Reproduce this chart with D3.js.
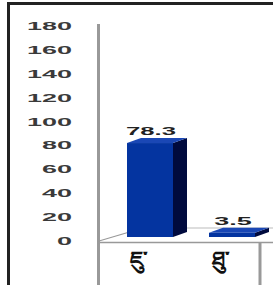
<!DOCTYPE html>
<html>
<head>
<meta charset="utf-8">
<script src="https://cdn.jsdelivr.net/npm/d3@7"></script>
<style>
  body { margin: 0; background: #fff; }
  svg { display: block; }
</style>
</head>
<body>
<div id="chart"></div>
<script>
// datos
const categories = ['ཇུ་', 'ཐུ་'];
const values = [78.3, 3.5];
const tickValues = [0, 20, 40, 60, 80, 100, 120, 140, 160, 180];

const width = 273;
const height = 285;

const svg = d3.select('#chart')
  .append('svg')
  .attr('width', width)
  .attr('height', height);

// marco
svg.append('path')
  .attr('d', 'M8.5,285 V3.5 H273')
  .attr('fill', 'none')
  .attr('stroke', '#222')
  .attr('stroke-width', 3);

// escalas
const x = d3.scaleBand().domain(categories).range([98, 262]);
const yTicks = d3.scaleLinear().domain([0, 180]).range([241, 26]);
const yBar = d3.scaleLinear().domain([0, 180]).range([237, 237 - 216]);

// eje Y (solo etiquetas)
const axis = svg.append('g')
  .attr('transform', 'translate(72,0)')
  .call(d3.axisLeft(yTicks).tickValues(tickValues).tickSize(0).tickPadding(0));
axis.select('.domain').remove();
axis.selectAll('text')
  .attr('font-family', 'Liberation Sans, Arial, sans-serif')
  .attr('font-size', 11)
  .attr('font-weight', 'bold')
  .attr('fill', '#3a3a3a')
  .attr('textLength', (d) => String(d).length * 15)
  .attr('lengthAdjust', 'spacingAndGlyphs');

// suelo y líneas
const depthX = 44, depthY = -13;
svg.append('line')
  .attr('x1', 98.5).attr('x2', 98.5).attr('y1', 24).attr('y2', height)
  .attr('stroke', '#999').attr('stroke-width', 3);
svg.append('line')
  .attr('x1', 99).attr('y1', 241).attr('x2', 99 + depthX).attr('y2', 241 + depthY)
  .attr('stroke', '#999').attr('stroke-width', 1.2);
svg.append('line')
  .attr('x1', 99 + depthX).attr('y1', 228).attr('x2', width).attr('y2', 228)
  .attr('stroke', '#bbb').attr('stroke-width', 1.2);
svg.append('line')
  .attr('x1', 98).attr('y1', 242.5).attr('x2', width).attr('y2', 242.5)
  .attr('stroke', '#999').attr('stroke-width', 1.5);
svg.append('line')
  .attr('x1', x.range()[1] - 2).attr('x2', x.range()[1] - 2).attr('y1', 243).attr('y2', height)
  .attr('stroke', '#999').attr('stroke-width', 3);

// barras 3D
const barW = 46, dx = 14, dy = -5;
const bars = svg.selectAll('.bar')
  .data(categories.map((c, i) => ({ c, v: values[i] })))
  .enter()
  .append('g')
  .attr('class', 'bar');

bars.append('polygon')
  .attr('fill', '#000a3d')
  .attr('points', (d) => {
    const x0 = x(d.c) + 29 + barW, yt = yBar(d.v), yb = yBar(0);
    return [[x0, yt], [x0 + dx, yt + dy], [x0 + dx, yb + dy], [x0, yb]].join(' ');
  });

bars.append('polygon')
  .attr('fill', '#1a47b5')
  .attr('points', (d) => {
    const x0 = x(d.c) + 29, yt = yBar(d.v);
    return [[x0, yt], [x0 + dx, yt + dy], [x0 + barW + dx, yt + dy], [x0 + barW, yt]].join(' ');
  });

bars.append('rect')
  .attr('x', (d) => x(d.c) + 29)
  .attr('y', (d) => yBar(d.v))
  .attr('width', barW)
  .attr('height', (d) => yBar(0) - yBar(d.v))
  .attr('fill', '#0434a0');

// etiquetas de valor
bars.append('text')
  .attr('x', (d) => x(d.c) + 29 + barW / 2 + 1)
  .attr('y', (d) => yBar(d.v) - 8)
  .attr('text-anchor', 'middle')
  .attr('font-family', 'Liberation Sans, Arial, sans-serif')
  .attr('font-size', 10)
  .attr('font-weight', 'bold')
  .attr('fill', '#222')
  .attr('textLength', (d) => String(d.v).length * 12.5)
  .attr('lengthAdjust', 'spacingAndGlyphs')
  .text((d) => d.v);

// categorías
svg.selectAll('.cat')
  .data(categories)
  .enter()
  .append('text')
  .attr('class', 'cat')
  .attr('x', (d) => x(d) + x.bandwidth() / 2)
  .attr('y', 267)
  .attr('text-anchor', 'middle')
  .attr('font-size', 22)
  .attr('font-weight', 'bold')
  .attr('fill', '#111')
  .text((d) => d);
</script>
</body>
</html>
